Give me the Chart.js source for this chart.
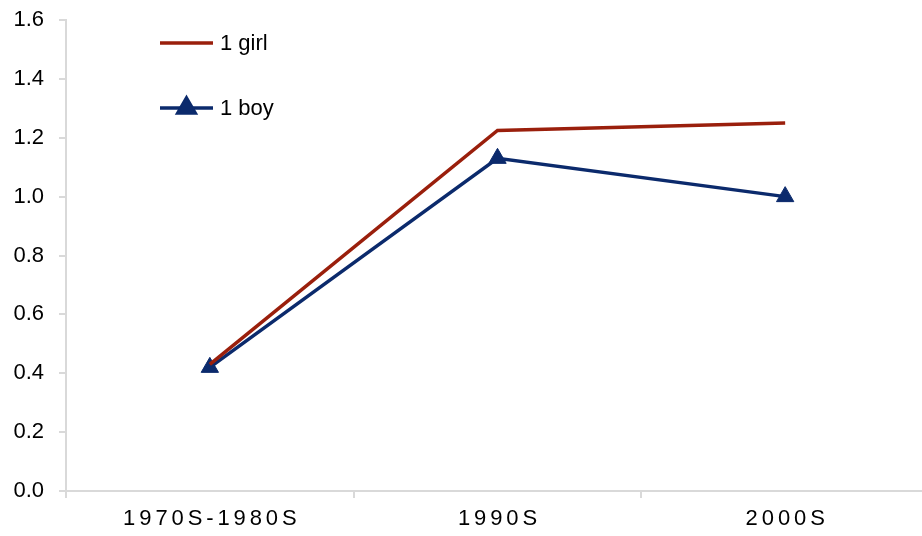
<!DOCTYPE html>
<html lang="en">
<head>
    <meta charset="UTF-8">
    <title>Chart</title>
    <script src="https://cdn.jsdelivr.net/npm/chart.js"></script>
    <style>
        html, body { margin: 0; padding: 0; background: #fff; overflow: hidden; width: 922px; }
        /* the plot runs a little past the right edge in the original, so the canvas is cut */
        #wrap { width: 922px; height: 536px; overflow: hidden; position: relative; }
        #graph { width: 930px; height: 536px; display: block; }
    </style>
</head>
<body>
    <div id="wrap">
        <canvas id="graph" width="930" height="536"></canvas>
    </div>
<script>
    // data
    const categories = ['1970S-1980S', '1990S', '2000S'];
    const girlValues = [0.43, 1.225, 1.25];
    const boyValues = [0.42, 1.13, 1.0];
    const seriesNames = ['1 girl', '1 boy'];

    const girlColor = '#9a1f0c';
    const boyColor = '#0b2a6c';
    const axisColor = '#d9d9d9';
    const font = 'Liberation Sans, Arial, sans-serif';

    // legend drawn in the top left corner of the plot, like the original
    const legendPlugin = {
        id: 'cornerLegend',
        afterDraw(chart) {
            const ctx = chart.ctx;
            const rows = [43, 108];
            chart.data.datasets.forEach((ds, i) => {
                const y = rows[i];
                ctx.save();
                ctx.strokeStyle = ds.borderColor;
                ctx.lineWidth = ds.borderWidth;
                ctx.beginPath();
                ctx.moveTo(160, y);
                ctx.lineTo(213, y);
                ctx.stroke();
                if (ds.pointRadius > 0) {
                    Chart.helpers.drawPoint(ctx, {
                        pointStyle: ds.pointStyle,
                        radius: ds.pointRadius,
                        borderWidth: 1
                    }, 186.5, y);
                    ctx.fillStyle = ds.pointBackgroundColor;
                    ctx.fill();
                }
                ctx.fillStyle = '#000';
                ctx.font = '22px ' + font;
                ctx.textBaseline = 'middle';
                ctx.textAlign = 'left';
                ctx.fillText(ds.label, 220, y + 1);
                ctx.restore();
            });
        }
    };

    // wider letter spacing on the category labels
    const spacingPlugin = {
        id: 'xSpacing',
        afterLayout(chart) {
            const xs = chart.scales.x;
            if (xs._spaced) return;
            xs._spaced = true;
            xs.drawLabels = function (area) {
                const c = this.ctx;
                c.save();
                c.letterSpacing = '3.9px';
                c.translate(2, 0);
                Object.getPrototypeOf(this).drawLabels.call(this, area);
                c.restore();
            };
        }
    };

    const ctx = document.getElementById('graph');
    const chart = new Chart(ctx, {
        type: 'line',
        data: {
            labels: categories,
            datasets: [{
                label: seriesNames[0],
                data: girlValues,
                borderColor: girlColor,
                backgroundColor: girlColor,
                borderWidth: 3.5,
                pointRadius: 0,
                pointHoverRadius: 0,
                tension: 0
            }, {
                label: seriesNames[1],
                data: boyValues,
                borderColor: boyColor,
                backgroundColor: boyColor,
                pointBackgroundColor: boyColor,
                pointBorderColor: boyColor,
                borderWidth: 3.5,
                pointStyle: 'triangle',
                pointRadius: 10,
                pointBorderWidth: 1,
                tension: 0
            }]
        },
        options: {
            responsive: false,
            animation: false,
            layout: {
                autoPadding: false,
                padding: { top: 20, right: 1, bottom: 0, left: 0 }
            },
            plugins: {
                legend: { display: false },
                tooltip: { enabled: false }
            },
            scales: {
                x: {
                    offset: true,
                    grid: {
                        offset: true,
                        drawOnChartArea: false,
                        color: axisColor,
                        lineWidth: 2,
                        tickLength: 7
                    },
                    border: { color: axisColor, width: 2 },
                    ticks: {
                        color: '#000',
                        font: { family: font, size: 22 },
                        padding: 8,
                        maxRotation: 0
                    },
                    afterFit(scale) {
                        scale.height = 45;
                        scale.paddingLeft = 0;
                        scale.paddingRight = 0;
                    }
                },
                y: {
                    min: 0,
                    max: 1.6,
                    grid: {
                        drawOnChartArea: false,
                        color: axisColor,
                        lineWidth: 2,
                        tickLength: 7
                    },
                    border: { color: axisColor, width: 2 },
                    ticks: {
                        stepSize: 0.2,
                        color: '#000',
                        font: { family: font, size: 22 },
                        padding: 15,
                        callback: v => v.toFixed(1)
                    },
                    afterFit(scale) {
                        scale.width = 66;
                        scale.paddingTop = 0;
                        scale.paddingBottom = 0;
                    }
                }
            }
        },
        plugins: [legendPlugin, spacingPlugin]
    });
</script>
</body>
</html>
